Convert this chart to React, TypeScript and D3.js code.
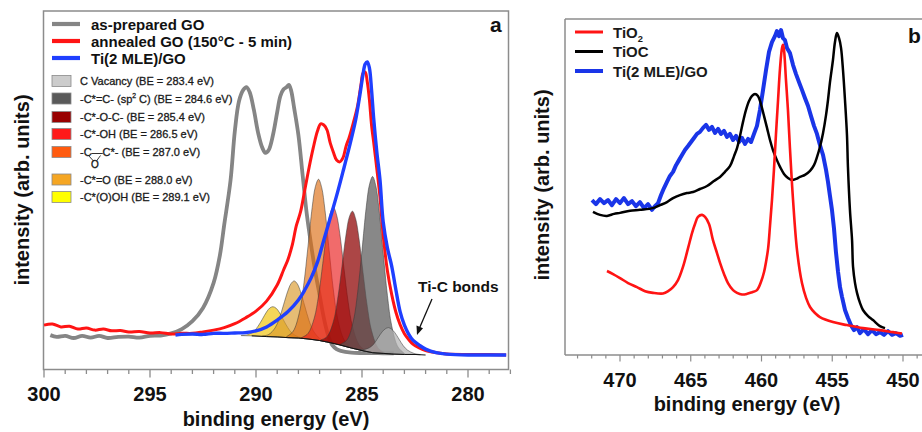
import React from "react";
import * as d3 from "d3";

type P = [number, number];

// ---------------- Panel a : C 1s ----------------
const aMajorTicks = [300, 295, 290, 285, 280];
const aLineLabels = ["as-prepared GO", "annealed GO (150°C - 5 min)", "Ti(2 MLE)/GO"];
const aLineColors = ["#858585", "#ff1414", "#1f3fff"];

const asPreparedGO: P[] = [
  [299.7, 9.6], [299.4, 9.1], [299, 9.4], [298.6, 8.8], [298.2, 9.4], [297.8, 8.9], [297.4, 9.4],
  [297, 8.8], [296.5, 9.1], [296, 9.2], [295.5, 8.9], [295, 9.4], [294.5, 9.5], [294, 10.1],
  [293.5, 11.3], [293, 13.5], [292.5, 17.2], [292, 24.2], [291.7, 32.0], [291.5, 40.4], [291.2, 52.9],
  [291, 66.5], [290.8, 75.0], [290.6, 78.1], [290.45, 78.9], [290.3, 77.5], [290.1, 72.5], [289.9, 66.1],
  [289.7, 61.9], [289.55, 60.5], [289.4, 61.3], [289.2, 65.5], [289.0, 71.9], [288.85, 76.4], [288.7, 78.3],
  [288.55, 78.9], [288.45, 79.5], [288.35, 78.1], [288.2, 73.0], [288.0, 65.5], [287.8, 54.3], [287.6, 43.2],
  [287.4, 34.8], [287.2, 27.2], [287.0, 20.8], [286.8, 14.4], [286.6, 9.6], [286.4, 6.8], [286.2, 5.7],
  [286, 5.2], [285.5, 4.7], [285, 4.6], [284.5, 4.6], [284, 4.5], [283.5, 4.5],
];

const annealedGO: P[] = [
  [300, 12.4], [299.6, 12.7], [299.2, 11.9], [298.8, 12.1], [298.4, 11.3], [298, 11.6], [297.6, 11.0],
  [297.2, 11.3], [296.8, 10.8], [296.4, 10.9], [296, 10.5], [295.5, 10.6], [295, 10.2], [294.5, 10.3],
  [294, 9.9], [293.5, 10.1], [293, 10.1], [292.5, 10.5], [292, 11.0], [291.5, 11.7], [291, 12.8],
  [290.5, 14.4], [290, 16.3], [289.5, 19.1], [289, 23.6], [288.7, 27.8], [288.5, 30.6], [288.3, 34.5],
  [288.1, 40.1], [287.9, 44.0], [287.7, 50.1], [287.5, 56.3], [287.3, 61.9], [287.1, 66.6], [286.95, 68.6],
  [286.8, 68.3], [286.65, 66.9], [286.5, 63.3], [286.35, 60.7], [286.2, 58.5], [286.05, 58.0], [285.9, 59.1],
  [285.75, 62.4], [285.6, 64.9], [285.4, 69.1], [285.2, 73.9], [285.05, 79.5], [284.95, 82.8], [284.85, 83.1],
  [284.75, 80.3], [284.65, 75.3], [284.55, 68.3], [284.45, 63.5], [284.3, 56.0], [284.15, 48.0], [284.0, 37.5],
  [283.8, 27.5], [283.6, 21.0], [283.4, 16.0], [283.2, 12.5], [283.0, 10.0], [282.8, 8.4], [282.6, 7.1],
  [282.3, 6.0], [282, 5.3], [281.5, 4.7], [281, 4.3], [280, 4.2], [279, 4.2], [278.2, 4.05],
];

const tiGO_C1s: P[] = [
  [293.8, 9.6], [293.5, 9.8], [293, 9.9], [292.5, 9.8], [292, 10.1], [291.5, 10.1], [291, 10.2],
  [290.5, 10.3], [290, 10.8], [289.5, 11.9], [289, 13.8], [288.5, 16.1], [288, 19.4], [287.7, 22.2],
  [287.4, 25.6], [287.1, 30.0], [286.8, 36.2], [286.5, 42.3], [286.2, 48.5], [285.9, 55.2], [285.6, 62.1],
  [285.3, 69.7], [285.1, 76.7], [284.95, 82.5], [284.85, 85.3], [284.75, 85.9], [284.65, 84.2], [284.55, 78.1],
  [284.45, 70.2], [284.3, 60.7], [284.15, 52.9], [284.0, 41.2], [283.8, 33.9], [283.6, 28.9], [283.4, 22.2],
  [283.2, 16.1], [283.0, 12.4], [282.8, 9.9], [282.6, 8.2], [282.3, 6.8], [282, 5.7], [281.5, 4.7],
  [281, 4.3], [280, 4.05], [279, 4.05], [278.2, 4.05],
];

const shirleyBg: P[] = [
  [291, 9.5], [290.2, 9.4], [289.5, 9.2], [289, 9.1], [288.5, 8.9], [288, 8.8], [287.5, 8.5], [287, 8.1],
  [286.5, 7.5], [286, 6.8], [285.5, 6.0], [285, 5.3], [284.5, 4.7], [284, 4.5], [283.5, 4.3], [283, 4.2],
  [282.5, 4.2], [282, 4.05],
];

// fit components: [eV, height above background]
const compCOOH: P[] = [
  [287.7, 0.05], [288.0, 0.3], [288.3, 1.3], [288.5, 2.8], [288.7, 4.8], [288.9, 6.9], [289.05, 8.0], [289.2, 8.4],
  [289.35, 8.0], [289.5, 6.9], [289.7, 4.8], [289.9, 2.8], [290.1, 1.3], [290.4, 0.3], [290.7, 0.05],
];
const compCO: P[] = [
  [286.7, 0.1], [287.0, 0.6], [287.3, 2.5], [287.5, 5.2], [287.7, 9.1], [287.9, 13.0], [288.05, 15.1], [288.2, 15.9],
  [288.35, 15.1], [288.5, 13.0], [288.7, 9.1], [288.9, 5.2], [289.1, 2.5], [289.4, 0.6], [289.7, 0.1],
];
const compEpoxy: P[] = [
  [285.55, 0.3], [285.85, 1.8], [286.15, 7.2], [286.35, 14.9], [286.55, 25.7], [286.75, 36.9], [286.9, 42.8], [287.05, 45],
  [287.2, 42.8], [287.35, 36.9], [287.55, 25.7], [287.75, 14.9], [287.95, 7.2], [288.25, 1.8], [288.55, 0.3],
];
const compCOH: P[] = [
  [284.85, 0.2], [285.15, 1.5], [285.45, 6.1], [285.65, 12.5], [285.85, 21.7], [286.05, 31.2], [286.2, 36.1], [286.35, 38],
  [286.5, 36.1], [286.65, 31.2], [286.85, 21.7], [287.05, 12.5], [287.25, 6.1], [287.55, 1.5], [287.85, 0.2],
];
const compCOC: P[] = [
  [283.95, 0.2], [284.25, 1.5], [284.55, 6.1], [284.75, 12.6], [284.95, 21.8], [285.15, 31.4], [285.3, 36.4], [285.45, 38.3],
  [285.6, 36.4], [285.75, 31.4], [285.95, 21.8], [286.15, 12.6], [286.35, 6.1], [286.65, 1.5], [286.95, 0.2],
];
const compSp2: P[] = [
  [283.0, 0.3], [283.3, 2.0], [283.6, 7.9], [283.8, 16.2], [284.0, 28.0], [284.2, 40.3], [284.35, 46.7], [284.5, 49.2],
  [284.65, 46.7], [284.8, 40.3], [285.0, 28.0], [285.2, 16.2], [285.4, 7.9], [285.7, 2.0], [286.0, 0.3],
];
const compVacancy: P[] = [
  [282.25, 0.04], [282.55, 0.3], [282.85, 1.2], [283.05, 2.4], [283.25, 4.2], [283.45, 6.0], [283.6, 6.9], [283.75, 7.3],
  [283.9, 6.9], [284.05, 6.0], [284.25, 4.2], [284.45, 2.4], [284.65, 1.2], [284.95, 0.3], [285.25, 0.04],
];
const components = [compCOOH, compCO, compEpoxy, compCOH, compCOC, compSp2, compVacancy];
const componentFills = ["#f0c000", "#d9982a", "#db6d12", "#ea1c1c", "#900808", "#555555", "#b0b0b0"];
const componentOpacity = [0.65, 0.65, 0.65, 0.65, 0.75, 0.7, 0.7];

const compLegendLabels = [
  "C Vacancy (BE = 283.4 eV)",
  "-C*=C- (sp|2| C) (BE = 284.6 eV)",
  "-C*-O-C- (BE = 285.4 eV)",
  "-C*-OH (BE = 286.5 eV)",
  "-C\u2014C*- (BE = 287.0 eV)",
  "-C*=O (BE = 288.0 eV)",
  "-C*(O)OH (BE = 289.1 eV)",
];
const compLegendColors = ["#cccccc", "#595959", "#990000", "#ff1a1a", "#ff5b0f", "#f5a623", "#ffff00"];

// ---------------- Panel b : Ti 2p ----------------
const bMajorTicks = [470, 465, 460, 455, 450];
const bLineLabels = ["TiO|2", "TiOC", "Ti(2 MLE)/GO"];
const bLineColors = ["#ff1414", "#000000", "#1a35e8"];

const tiO2: P[] = [
  [470.92, 25.0], [470.49, 24.1], [470.0, 22.9], [469.43, 21.4], [468.8, 20.2], [468.23, 19.0], [467.67, 18.5],
  [466.96, 18.3], [466.6, 19.0], [466.25, 20.2], [465.9, 22.3], [465.55, 26.2], [465.19, 31.8], [464.91, 36.3],
  [464.7, 39.0], [464.49, 41.1], [464.2, 41.7], [463.99, 41.1], [463.71, 39.0], [463.43, 34.2], [463.15, 30.4],
  [462.93, 27.4], [462.65, 24.1], [462.37, 21.4], [462.01, 19.3], [461.73, 18.5], [461.38, 18.0], [461.02, 18.2],
  [460.67, 18.7], [460.32, 19.3], [460.04, 21.7], [459.82, 24.7], [459.68, 27.7], [459.53, 31.8], [459.4, 38.4],
  [459.26, 46.1], [459.12, 55.1], [458.98, 65.5], [458.83, 75.9], [458.69, 85.4], [458.55, 91.4], [458.48, 92.3],
  [458.41, 90.8], [458.27, 81.8], [458.13, 72.9], [457.99, 61.6], [457.77, 46.1], [457.49, 31.2], [457.14, 21.4],
  [456.85, 17.0], [456.57, 14.3], [456.22, 12.5], [455.87, 11.3], [454.95, 9.8], [453.96, 8.9], [452.83, 8.0],
  [451.63, 7.4], [450.71, 6.8], [450.07, 6.4],
];

const tiOC: P[] = [
  [471.91, 42.6], [471.41, 41.7], [470.92, 41.4], [470.42, 42.0], [470.0, 42.3], [469.29, 42.9], [468.59, 43.2],
  [467.67, 43.7], [467.17, 44.6], [466.68, 45.5], [466.25, 46.7], [465.76, 47.6], [465.27, 48.2], [464.84, 48.5],
  [464.35, 49.4], [463.85, 50.3], [463.36, 51.8], [462.93, 53.0], [462.58, 54.5], [462.23, 56.2], [461.94, 59.2],
  [461.73, 61.6], [461.52, 65.2], [461.31, 69.3], [461.1, 72.9], [460.88, 75.6], [460.67, 77.1], [460.46, 77.7],
  [460.25, 77.1], [460.04, 74.7], [459.82, 71.1], [459.61, 67.6], [459.4, 64.0], [459.19, 61.0], [458.91, 58.0],
  [458.69, 56.0], [458.41, 53.9], [458.13, 52.7], [457.85, 52.1], [457.56, 52.4], [457.28, 53.0], [456.93, 53.6],
  [456.57, 54.8], [456.29, 56.5], [456.08, 58.9], [455.87, 61.9], [455.65, 66.1], [455.44, 71.4], [455.3, 75.9],
  [455.16, 81.2], [454.95, 87.8], [454.81, 93.1], [454.67, 95.8], [454.52, 94.3], [454.38, 91.4], [454.24, 84.8],
  [454.1, 75.9], [453.96, 65.5], [453.89, 55.9], [453.75, 43.2], [453.6, 34.2], [453.53, 26.2], [453.39, 21.4],
  [453.25, 18.5], [453.04, 15.5], [452.83, 13.4], [452.47, 11.6], [452.12, 10.4], [451.63, 8.6], [451.27, 8.0],
];

const tiGO_Ti2p: P[] = [
  [471.98, 46.1], [471.7, 44.9], [471.41, 46.4], [471.13, 45.2], [470.85, 46.1], [470.57, 44.6], [470.28, 46.4],
  [470.0, 45.2], [469.72, 46.7], [469.43, 44.9], [469.15, 45.8], [468.87, 44.3], [468.59, 45.5], [468.3, 43.7],
  [468.02, 44.9], [467.74, 43.2], [467.53, 44.3], [467.31, 45.2], [467.1, 47.6], [466.89, 49.7], [466.68, 51.5],
  [466.47, 53.3], [466.25, 54.5], [466.04, 56.5], [465.83, 58.0], [465.62, 59.5], [465.41, 61.0], [465.19, 62.2],
  [464.98, 63.4], [464.77, 64.6], [464.56, 65.8], [464.35, 66.4], [464.13, 67.6], [463.92, 68.5], [463.71, 67.0],
  [463.5, 67.9], [463.29, 66.1], [463.07, 67.3], [462.86, 65.8], [462.65, 66.7], [462.44, 64.9], [462.23, 65.8],
  [462.01, 64.0], [461.8, 65.2], [461.59, 63.4], [461.38, 64.6], [461.17, 62.8], [460.95, 64.3], [460.74, 63.4],
  [460.53, 65.8], [460.32, 68.2], [460.11, 72.9], [459.89, 78.9], [459.68, 84.8], [459.47, 90.2], [459.26, 93.1],
  [459.05, 94.9], [458.91, 96.4], [458.76, 94.9], [458.62, 96.7], [458.48, 94.3], [458.34, 93.7], [458.2, 91.4],
  [457.99, 89.9], [457.77, 86.3], [457.56, 83.6], [457.35, 81.2], [457.14, 78.9], [456.93, 76.5], [456.71, 74.1],
  [456.5, 71.1], [456.29, 68.2], [456.08, 65.8], [455.87, 62.5], [455.65, 59.5], [455.44, 55.1], [455.3, 51.5],
  [455.16, 47.3], [455.02, 43.2], [454.88, 37.8], [454.74, 30.7], [454.59, 24.7], [454.45, 20.2], [454.31, 17.3],
  [454.1, 13.4], [453.89, 11.0], [453.68, 8.9], [453.46, 7.4], [453.25, 8.3], [453.04, 6.5], [452.76, 7.7],
  [452.47, 6.2], [452.19, 7.4], [451.91, 6.2], [451.63, 6.8], [451.34, 6.0], [451.06, 7.1], [450.78, 6.0],
  [450.5, 6.5], [450.21, 5.7], [450.0, 6.0],
];

const FONT = "'Liberation Sans', Arial, Helvetica, sans-serif";
const FRAME = "#8c8c8c";

function SubText({ label, x, y, size, weight, sup, thicken }: { label: string; x: number; y: number; size: number; weight: string | number; sup?: boolean; thicken?: boolean }) {
  const parts = label.split("|");
  return (
    <text
      x={x}
      y={y}
      fontFamily={FONT}
      fontSize={size}
      fontWeight={weight}
      fill="#1a1a1a"
      stroke={thicken ? "#1a1a1a" : "none"}
      strokeWidth={thicken ? 0.3 : 0}
    >
      {parts.map((p, i) =>
        i % 2 === 1 ? (
          <tspan key={i} fontSize={size * 0.62} dy={sup ? -size * 0.38 : size * 0.28}>{p}</tspan>
        ) : (
          <tspan key={i} dy={i > 0 ? (sup ? size * 0.38 : -size * 0.28) : 0}>{p}</tspan>
        )
      )}
    </text>
  );
}

export default function App() {
  // panel a scales
  const xa = d3.scaleLinear().domain([300, 280]).range([44, 468]);
  const ya = d3.scaleLinear().domain([0, 100]).range([369.5, 11.5]);
  // panel b scales
  const xb = d3.scaleLinear().domain([470, 450]).range([620, 903]);
  const yb = d3.scaleLinear().domain([0, 100]).range([355, 19]);

  const lineA = d3.line<P>().x((d) => xa(d[0])).y((d) => ya(d[1])).curve(d3.curveCatmullRom);
  const lineB = d3.line<P>().x((d) => xb(d[0])).y((d) => yb(d[1])).curve(d3.curveCatmullRom);
  const lineBNoisy = d3.line<P>().x((d) => xb(d[0])).y((d) => yb(d[1])).curve(d3.curveLinear);

  const bgSorted = [...shirleyBg].sort((p, q) => p[0] - q[0]);
  const bgAt = d3.scaleLinear().domain(bgSorted.map((d) => d[0])).range(bgSorted.map((d) => d[1])).clamp(true);
  const compArea = d3
    .area<P>()
    .x((d) => xa(d[0]))
    .y0((d) => ya(bgAt(d[0])))
    .y1((d) => ya(bgAt(d[0]) + d[1]))
    .curve(d3.curveCatmullRom);
  const bgLine = d3.line<P>().x((d) => xa(d[0])).y((d) => ya(d[1]));

  const aLeft = 43.5, aRight = 508.5, aTop = 11, aBottom = 369.5;
  const bLeft = 565, bRight = 926, bTop = 19, bBottom = 355;

  const aTickVals = d3.range(278, 301);
  const bTickVals = d3.range(449, 474);

  return (
    <svg width={922} height={432} style={{ position: "absolute", left: 0, top: 0, background: "#fff" }}>
      <defs>
        <clipPath id="clipA">
          <rect x={aLeft} y={aTop} width={aRight - aLeft} height={aBottom - aTop} />
        </clipPath>
        <clipPath id="clipB">
          <rect x={bLeft} y={bTop} width={bRight - bLeft} height={bBottom - bTop} />
        </clipPath>
      </defs>

      {/* ================= Panel a ================= */}
      <rect x={aLeft} y={aTop} width={aRight - aLeft} height={aBottom - aTop} fill="none" stroke={FRAME} strokeWidth={1.5} />
      {aTickVals.map((v) => {
        const major = v % 5 === 0;
        return <line key={v} x1={xa(v)} x2={xa(v)} y1={aBottom} y2={aBottom + (major ? 8 : 4.5)} stroke={FRAME} strokeWidth={1.3} />;
      })}
      {aMajorTicks.map((v) => (
        <text key={v} x={xa(v)} y={401} textAnchor="middle" fontFamily={FONT} fontWeight="bold" fontSize={20} fill="#111">
          {v}
        </text>
      ))}
      <text x={276} y={426} textAnchor="middle" fontFamily={FONT} fontWeight="bold" fontSize={20} fill="#111">
        binding energy (eV)
      </text>
      <text transform="translate(29,190) rotate(-90)" textAnchor="middle" fontFamily={FONT} fontWeight="bold" fontSize={20} fill="#111">
        intensity (arb. units)
      </text>
      <text x={490} y={32} fontFamily={FONT} fontWeight="bold" fontSize={21} fill="#111">a</text>

      <g clipPath="url(#clipA)">
        <path d={lineA(asPreparedGO) || ""} fill="none" stroke={aLineColors[0]} strokeWidth={3.8} strokeLinejoin="round" />
        {components.map((c, i) => (
          <path key={i} d={compArea(c) || ""} fill={componentFills[i]} fillOpacity={componentOpacity[i]} stroke="#3a3a3a" strokeOpacity={0.75} strokeWidth={0.7} />
        ))}
        <path d={bgLine(shirleyBg.filter((d) => d[0] <= 290.4)) || ""} fill="none" stroke="#111" strokeWidth={1} />
        <path d={lineA(annealedGO) || ""} fill="none" stroke={aLineColors[1]} strokeWidth={3} strokeLinejoin="round" />
        <path d={lineA(tiGO_C1s) || ""} fill="none" stroke={aLineColors[2]} strokeWidth={3.4} strokeLinejoin="round" />
      </g>

      {/* Ti-C annotation */}
      <text x={418} y={292} fontFamily={FONT} fontWeight="bold" fontSize={15.5} fill="#111">Ti-C bonds</text>
      <line x1={432} y1={299} x2={419.5} y2={328} stroke="#111" strokeWidth={1.3} />
      <polygon points="417,335 416.5,325.5 423,328.2" fill="#111" />

      {/* line legend a */}
      {aLineLabels.map((l, i) => (
        <g key={l}>
          <line x1={52} x2={80} y1={24 + i * 17} y2={24 + i * 17} stroke={aLineColors[i]} strokeWidth={4.2} />
          <text x={91} y={29.5 + i * 17} fontFamily={FONT} fontWeight="bold" fontSize={15} fill="#111">{l}</text>
        </g>
      ))}
      {/* component legend */}
      {compLegendLabels.map((l, i) => {
        const cy = [81, 98.5, 117, 134, 152, 179.5, 197][i];
        return (
          <g key={i}>
            <rect x={52} y={cy - 5.5} width={19} height={11} fill={compLegendColors[i]} stroke="#8a8a8a" strokeWidth={0.8} />
            <SubText label={l} x={80} y={cy + 4} size={11} weight="normal" sup thicken />
          </g>
        );
      })}
      {/* epoxide ring sketch */}
      <line x1={88.5} y1={155.5} x2={93.5} y2={161} stroke="#222" strokeWidth={0.9} />
      <line x1={100.5} y1={155.5} x2={96.5} y2={161} stroke="#222" strokeWidth={0.9} />
      <text x={95} y={168} textAnchor="middle" fontFamily={FONT} fontSize={10} fill="#111" stroke="#111" strokeWidth={0.3}>O</text>

      {/* ================= Panel b ================= */}
      <line x1={bLeft} x2={bLeft} y1={bTop} y2={bBottom} stroke={FRAME} strokeWidth={1.5} />
      <line x1={bLeft} x2={bRight} y1={bTop} y2={bTop} stroke={FRAME} strokeWidth={1.5} />
      <line x1={bLeft} x2={bRight} y1={bBottom} y2={bBottom} stroke={FRAME} strokeWidth={1.5} />
      {bTickVals.map((v) => {
        const major = v % 5 === 0;
        return <line key={v} x1={xb(v)} x2={xb(v)} y1={bBottom} y2={bBottom + (major ? 6.5 : 3.5)} stroke={FRAME} strokeWidth={1.2} />;
      })}
      {bMajorTicks.map((v) => (
        <text key={v} x={xb(v)} y={387} textAnchor="middle" fontFamily={FONT} fontWeight="bold" fontSize={20} fill="#111">
          {v}
        </text>
      ))}
      <text x={747} y={411} textAnchor="middle" fontFamily={FONT} fontWeight="bold" fontSize={20} fill="#111">
        binding energy (eV)
      </text>
      <text transform="translate(549,185) rotate(-90)" textAnchor="middle" fontFamily={FONT} fontWeight="bold" fontSize={20} fill="#111">
        intensity (arb. units)
      </text>
      <text x={908} y={43} fontFamily={FONT} fontWeight="bold" fontSize={21} fill="#111">b</text>

      <g clipPath="url(#clipB)">
        <path d={lineBNoisy(tiGO_Ti2p) || ""} fill="none" stroke={bLineColors[2]} strokeWidth={4} strokeLinejoin="round" />
        <path d={lineB(tiOC) || ""} fill="none" stroke={bLineColors[1]} strokeWidth={2.5} strokeLinejoin="round" />
        <path d={lineB(tiO2) || ""} fill="none" stroke={bLineColors[0]} strokeWidth={2.6} strokeLinejoin="round" />
      </g>

      {bLineLabels.map((l, i) => (
        <g key={l}>
          <line x1={575} x2={603} y1={32 + i * 19.5} y2={32 + i * 19.5} stroke={bLineColors[i]} strokeWidth={i === 2 ? 4 : 3} />
          <SubText label={l} x={613} y={37.5 + i * 19.5} size={15} weight="bold" />
        </g>
      ))}
    </svg>
  );
}
